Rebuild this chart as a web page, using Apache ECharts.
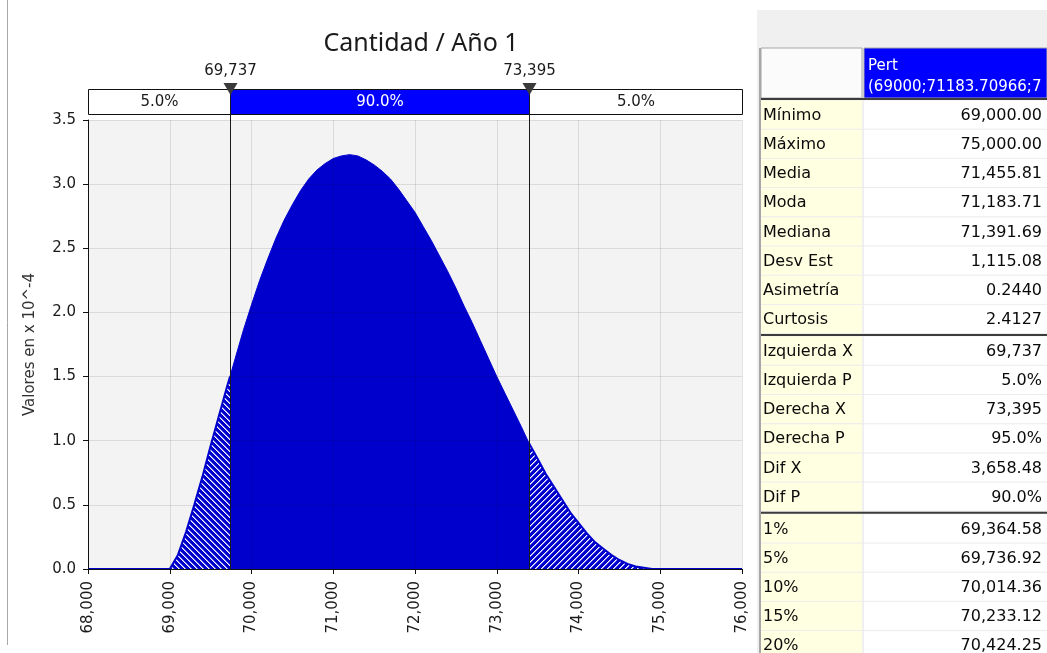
<!DOCTYPE html>
<html>
<head>
<meta charset="utf-8">
<title>Cantidad / Año 1</title>
<script src="https://cdn.jsdelivr.net/npm/echarts@6/dist/echarts.min.js"></script>
<style>
  html, body { margin: 0; padding: 0; background: #fff; }
  #chart { width: 1047px; height: 653px; }
</style>
</head>
<body>
<div id="chart"></div>
<script>
// densidad (valores en x 10^-4), cada 100 unidades
const xValues = [
  69000, 69100, 69200, 69300, 69400, 69500, 69600, 69700, 69800, 69900,
  70000, 70100, 70200, 70300, 70400, 70500, 70600, 70700, 70800, 70900,
  71000, 71100, 71200, 71300, 71400, 71500, 71600, 71700, 71800, 71900,
  72000, 72100, 72200, 72300, 72400, 72500, 72600, 72700, 72800, 72900,
  73000, 73100, 73200, 73300, 73400, 73500, 73600, 73700, 73800, 73900,
  74000, 74100, 74200, 74300, 74400, 74500, 74600, 74700, 74800, 74900,
  75000
];
const density = [
  0.00, 0.11, 0.29, 0.50, 0.72, 0.96, 1.19, 1.42, 1.64, 1.86,
  2.06, 2.25, 2.42, 2.58, 2.72, 2.84, 2.95, 3.04, 3.11, 3.16,
  3.20, 3.22, 3.23, 3.22, 3.19, 3.15, 3.10, 3.04, 2.96, 2.87,
  2.78, 2.67, 2.56, 2.44, 2.32, 2.19, 2.05, 1.92, 1.78, 1.64,
  1.50, 1.37, 1.24, 1.11, 0.98, 0.86, 0.74, 0.64, 0.54, 0.44,
  0.36, 0.28, 0.21, 0.16, 0.11, 0.07, 0.04, 0.02, 0.01, 0.00,
  0.00
];
const cutX = [69737, 73395];
const cutDensity = [1.50, 0.98];
const cutLabels = ['69,737', '73,395'];
const bandLabels = ['5.0%', '90.0%', '5.0%'];
const xTicks = [68000, 69000, 70000, 71000, 72000, 73000, 74000, 75000, 76000];
const yTicks = [0, 0.5, 1.0, 1.5, 2.0, 2.5, 3.0, 3.5];

// tabla de estadisticas
const statNames = ['Mínimo', 'Máximo', 'Media', 'Moda', 'Mediana', 'Desv Est', 'Asimetría', 'Curtosis'];
const statValues = ['69,000.00', '75,000.00', '71,455.81', '71,183.71', '71,391.69', '1,115.08', '0.2440', '2.4127'];
const targetNames = ['Izquierda X', 'Izquierda P', 'Derecha X', 'Derecha P', 'Dif X', 'Dif P'];
const targetValues = ['69,737', '5.0%', '73,395', '95.0%', '3,658.48', '90.0%'];
const pctNames = ['1%', '5%', '10%', '15%', '20%'];
const pctValues = ['69,364.58', '69,736.92', '70,014.36', '70,233.12', '70,424.25'];
const headerLines = ['Pert', '(69000;71183.70966;75000)'];

const BLUE = '#0000cd';
const FONT = '"DejaVu Sans", Verdana, sans-serif';

function fmt(v) {
  return String(v).replace(/\B(?=(\d{3})+(?!\d))/g, ',');
}

function hatch(dir) {
  const c = document.createElement('canvas');
  c.width = 6; c.height = 6;
  const ctx = c.getContext('2d');
  ctx.fillStyle = BLUE;
  ctx.fillRect(0, 0, 6, 6);
  for (let i = 0; i < 6; i++) {
    const x = dir > 0 ? i : 5 - i;
    ctx.fillStyle = '#ffffff';
    ctx.fillRect(x, i, 1, 1);
    ctx.fillStyle = '#8c8cf0';
    ctx.fillRect((x + 1) % 6, i, 1, 1);
  }
  return c;
}

function splitData() {
  const pts = xValues.map((x, i) => [x, density[i]]);
  const xMin = xTicks[0], xMax = xTicks[xTicks.length - 1];
  const left = [[xMin, 0]].concat(pts.filter(p => p[0] < cutX[0]), [[cutX[0], cutDensity[0]]]);
  const mid = [[cutX[0], cutDensity[0]]].concat(pts.filter(p => p[0] > cutX[0] && p[0] < cutX[1]), [[cutX[1], cutDensity[1]]]);
  const right = [[cutX[1], cutDensity[1]]].concat(pts.filter(p => p[0] > cutX[1]), [[xMax, 0]]);
  return { left, mid, right };
}

function txt(x, y, text, opts) {
  const o = opts || {};
  const align = o.align || 'left';
  return {
    type: 'text', x: x, y: y, silent: true, z: 20,
    style: {
      text: text, font: (o.size || 16) + 'px ' + FONT, fill: o.fill || '#0a0a0a',
      textAlign: align, align: align, textVerticalAlign: 'middle', verticalAlign: 'middle',
      width: o.width, overflow: o.width ? 'truncate' : undefined, ellipsis: ''
    }
  };
}

function tableElements() {
  const els = [];
  const left = 761, labW = 101, valL = 864, right = 1047, rowH = 29.2;
  els.push({ type: 'rect', silent: true, z: 10, shape: { x: 757, y: 10, width: 290, height: 643 }, style: { fill: '#f0f0f0' } });
  els.push({ type: 'rect', silent: true, z: 11, shape: { x: left, y: 48, width: labW, height: 50 }, style: { fill: '#fbfbfb', stroke: '#a6a6a6', lineWidth: 1 } });
  els.push({ type: 'rect', silent: true, z: 11, shape: { x: valL, y: 48, width: right - valL, height: 50 }, style: { fill: '#0000ff', stroke: '#a6a6a6', lineWidth: 1 } });
  els.push(txt(868, 66, headerLines[0], { fill: '#fff', size: 15 }));
  els.push(txt(868, 87, headerLines[1], { fill: '#fff', size: 15, width: 178 }));
  els.push({ type: 'line', silent: true, z: 12, shape: { x1: left, y1: 99, x2: right, y2: 99 }, style: { stroke: '#3c3c3c', lineWidth: 2 } });

  const sections = [[statNames, statValues], [targetNames, targetValues], [pctNames, pctValues]];
  let y = 100.5;
  sections.forEach((sec, si) => {
    sec[0].forEach((name, i) => {
      els.push({ type: 'rect', silent: true, z: 11, shape: { x: left, y: y, width: labW, height: rowH }, style: { fill: '#ffffe1' } });
      els.push({ type: 'rect', silent: true, z: 11, shape: { x: valL, y: y, width: right - valL, height: rowH }, style: { fill: '#ffffff' } });
      els.push({ type: 'line', silent: true, z: 12, shape: { x1: left, y1: y + rowH - 0.5, x2: right, y2: y + rowH - 0.5 }, style: { stroke: '#ececec', lineWidth: 1 } });
      els.push(txt(763, y + rowH / 2 + 0.5, name));
      els.push(txt(1042, y + rowH / 2 + 0.5, sec[1][i], { align: 'right' }));
      y += rowH;
    });
    if (si < sections.length - 1) {
      els.push({ type: 'line', silent: true, z: 12, shape: { x1: left, y1: y + 1, x2: right, y2: y + 1 }, style: { stroke: '#3c3c3c', lineWidth: 2 } });
      y += 2.5;
    }
  });
  els.push({ type: 'line', silent: true, z: 12, shape: { x1: 760, y1: 48, x2: 760, y2: 653 }, style: { stroke: '#a6a6a6', lineWidth: 2 } });
  // marco izquierdo
  els.push({ type: 'line', silent: true, z: 12, shape: { x1: 7.5, y1: 0, x2: 7.5, y2: 645 }, style: { stroke: '#a8a8a8', lineWidth: 1 } });
  return els;
}

const chart = echarts.init(document.getElementById('chart'));
const d = splitData();
const bounds = [xTicks[0]].concat(cutX, [xTicks[xTicks.length - 1]]);

const option = {
  animation: false,
  backgroundColor: '#ffffff',
  title: {
    text: 'Cantidad / Año 1',
    left: 416, top: 26, textAlign: 'center',
    textStyle: { fontFamily: '"Noto Sans", sans-serif', fontSize: 25, fontWeight: 'normal', color: '#1a1a1a' }
  },
  grid: { left: 88, right: 305, top: 120, bottom: 84, show: true, backgroundColor: '#f3f3f3', borderWidth: 0 },
  xAxis: {
    type: 'value', z: 3,
    min: xTicks[0], max: xTicks[xTicks.length - 1], interval: xTicks[1] - xTicks[0],
    axisLine: { lineStyle: { color: '#111', width: 1 } },
    axisTick: { show: true, length: 5, lineStyle: { color: '#111' } },
    axisLabel: { rotate: 90, margin: 12, color: '#1a1a1a', fontFamily: FONT, fontSize: 15, formatter: fmt },
    splitLine: { show: true, lineStyle: { color: 'rgba(0,0,0,0.1)', width: 1 } }
  },
  yAxis: {
    type: 'value', z: 3,
    min: yTicks[0], max: yTicks[yTicks.length - 1], interval: yTicks[1] - yTicks[0],
    name: 'Valores en x 10^-4', nameLocation: 'middle', nameGap: 50,
    nameTextStyle: { fontFamily: FONT, fontSize: 15, color: '#333' },
    axisLine: { show: true, lineStyle: { color: '#111', width: 1 } },
    axisTick: { show: true, length: 5, lineStyle: { color: '#111' } },
    axisLabel: { margin: 12, color: '#1a1a1a', fontFamily: FONT, fontSize: 15, formatter: v => v.toFixed(1) },
    splitLine: { show: true, lineStyle: { color: 'rgba(0,0,0,0.1)', width: 1 } }
  },
  series: [
    {
      type: 'line', data: d.left, symbol: 'none', silent: true, z: 2,
      lineStyle: { color: BLUE, width: 2 },
      areaStyle: { color: { image: hatch(1), repeat: 'repeat' }, opacity: 1 }
    },
    {
      type: 'line', data: d.mid, symbol: 'none', silent: true, z: 2,
      lineStyle: { color: BLUE, width: 1 },
      areaStyle: { color: BLUE, opacity: 1 }
    },
    {
      type: 'line', data: d.right, symbol: 'none', silent: true, z: 2,
      lineStyle: { color: BLUE, width: 2 },
      areaStyle: { color: { image: hatch(-1), repeat: 'repeat' }, opacity: 1 }
    },
    {
      // barra superior 5% / 90% / 5%
      type: 'custom', clip: false, silent: true, z: 8,
      encode: { x: [0, 1] },
      data: bandLabels.map((l, i) => [bounds[i], bounds[i + 1]]),
      renderItem: (params, api) => {
        const x0 = Math.round(api.coord([api.value(0), 0])[0]) + 0.5;
        const x1 = Math.round(api.coord([api.value(1), 0])[0]) + 0.5;
        const top = params.coordSys.y - 31 + 0.5;
        const mid = params.dataIndex === 1;
        return {
          type: 'group',
          children: [
            { type: 'rect', shape: { x: x0, y: top, width: x1 - x0, height: 25 },
              style: { fill: mid ? '#0000ff' : '#ffffff', stroke: '#111', lineWidth: 1 } },
            { type: 'text', x: (x0 + x1) / 2, y: top + 13,
              style: { text: bandLabels[params.dataIndex], font: '15px ' + FONT, fill: mid ? '#ffffff' : '#1a1a1a',
                textAlign: 'center', align: 'center', textVerticalAlign: 'middle', verticalAlign: 'middle' } }
          ]
        };
      }
    },
    {
      // marcadores de los percentiles 5% y 95%
      type: 'custom', clip: false, silent: true, z: 9,
      data: cutX.map(x => [x, 0]),
      renderItem: (params, api) => {
        const p = api.coord([api.value(0), 0]);
        const x = Math.round(p[0]) + 0.5;
        const top = params.coordSys.y - 31;
        return {
          type: 'group',
          children: [
            { type: 'line', shape: { x1: x, y1: top, x2: x, y2: p[1] }, style: { stroke: '#1a1a1a', lineWidth: 1 } },
            { type: 'polygon', shape: { points: [[x - 7, top - 6], [x + 7, top - 6], [x, top + 6]] }, style: { fill: '#3a3a3a' } },
            { type: 'text', x: x, y: top - 18,
              style: { text: cutLabels[params.dataIndex], font: '15px ' + FONT, fill: '#1a1a1a',
                textAlign: 'center', align: 'center', textVerticalAlign: 'middle', verticalAlign: 'middle' } }
          ]
        };
      }
    }
  ],
  graphic: { elements: tableElements() }
};

chart.setOption(option);
</script>
</body>
</html>
